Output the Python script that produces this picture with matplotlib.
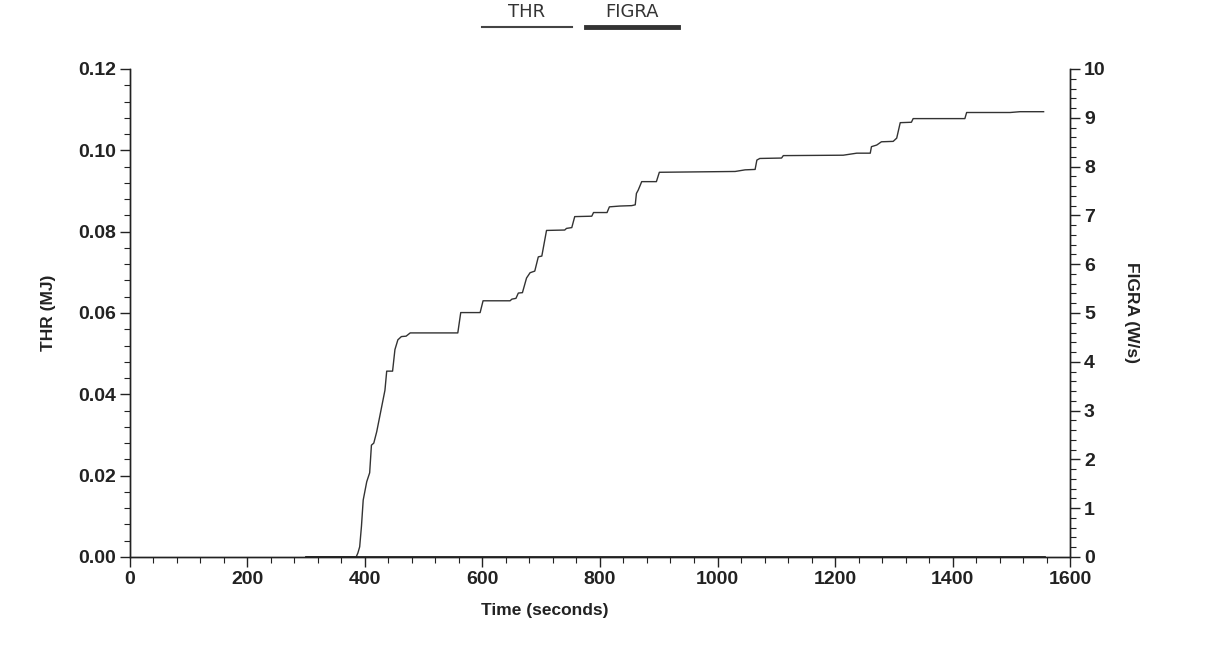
import matplotlib
matplotlib.use("Agg")
import matplotlib.pyplot as plt
from matplotlib.lines import Line2D
from matplotlib.ticker import MultipleLocator, FormatStrFormatter

# THR curve (time in s, THR in MJ)
time = [300, 385, 388, 391, 394, 397, 403, 408, 411, 415, 420, 434, 437, 447,
        451, 456, 462, 470, 477, 558, 563, 596, 601, 647, 650, 657, 661, 668,
        675, 681, 689, 695, 701, 709, 740, 743, 752, 757, 786, 789, 812, 816,
        834, 854, 860, 862, 865, 871, 896, 901, 1030, 1047, 1064, 1067, 1072,
        1109, 1112, 1214, 1237, 1260, 1262, 1271, 1279, 1299, 1305, 1311, 1330,
        1333, 1421, 1424, 1498, 1515, 1555]
thr = [0.0, 0.0, 0.001, 0.0025, 0.0075, 0.014, 0.0185, 0.0207, 0.0275, 0.028,
       0.0308, 0.041, 0.0457, 0.0457, 0.051, 0.0534, 0.0542, 0.0543, 0.0551,
       0.0551, 0.0601, 0.0601, 0.0630, 0.0630, 0.0634, 0.0636, 0.0649, 0.0650,
       0.0686, 0.0699, 0.0703, 0.0738, 0.0740, 0.0803, 0.0804, 0.0808, 0.0810,
       0.0837, 0.0838, 0.0847, 0.0847, 0.0861, 0.0863, 0.0864, 0.0866, 0.0894,
       0.0902, 0.0923, 0.0923, 0.0946, 0.0948, 0.0952, 0.0953, 0.0976, 0.0980,
       0.0981, 0.0987, 0.0988, 0.0993, 0.0993, 0.1009, 0.1013, 0.1021, 0.1022,
       0.1030, 0.1068, 0.1069, 0.1078, 0.1078, 0.1093, 0.1093, 0.1095, 0.1095]

# FIGRA stays at zero for the whole test
figra_time = [300, 1555]
figra = [0.0, 0.0]

plt.rcParams['font.family'] = ['Liberation Sans', 'DejaVu Sans']

fig = plt.figure(figsize=(12.11, 6.46), dpi=100)
ax = fig.add_axes([0.1073, 0.1378, 0.7763, 0.7554])
ax2 = ax.twinx()

ax.plot(time, thr, color='#333333', lw=1.0, zorder=3)
ax2.plot(figra_time, figra, color='#222222', lw=2, zorder=2)

ax.set_xlim(0, 1600)
ax.set_ylim(0, 0.12)
ax2.set_ylim(0, 10)

ax.xaxis.set_major_locator(MultipleLocator(200))
ax.xaxis.set_minor_locator(MultipleLocator(40))
ax.yaxis.set_major_locator(MultipleLocator(0.02))
ax.yaxis.set_minor_locator(MultipleLocator(0.004))
ax.yaxis.set_major_formatter(FormatStrFormatter('%.2f'))
ax2.yaxis.set_major_locator(MultipleLocator(1))
ax2.yaxis.set_minor_locator(MultipleLocator(0.2))

for a in (ax, ax2):
    a.spines['top'].set_visible(False)
    for s in a.spines.values():
        s.set_color('#222222')
        s.set_linewidth(1.0)
    a.tick_params(which='major', length=7, width=1, color='#222222',
                  labelsize=14, pad=3)
    a.tick_params(which='minor', length=4, width=0.8, color='#222222')
    for lab in a.get_xticklabels() + a.get_yticklabels():
        lab.set_fontweight('bold')
        lab.set_color('#222222')

ax.set_xlabel('Time (seconds)', fontsize=12.5, fontweight='bold', color='#222222')
ax.xaxis.set_label_coords(0.441, -0.095)
ax.set_ylabel('THR (MJ)', fontsize=12.5, fontweight='bold', color='#222222', labelpad=16)
ax2.set_ylabel('FIGRA (W/s)', fontsize=12.5, fontweight='bold', color='#222222',
               rotation=270, labelpad=24)

# legend at the top: names above the line samples
fig.add_artist(Line2D([482 / 1211, 572 / 1211], [1 - 27 / 646, 1 - 27 / 646],
                      color='#444444', lw=1.5))
fig.add_artist(Line2D([586 / 1211, 678 / 1211], [1 - 27 / 646, 1 - 27 / 646],
                      color='#333333', lw=3.5))
fig.text(527 / 1211, 1 - 12 / 646, 'THR', ha='center', va='center',
         fontsize=13, family='DejaVu Sans', color='#333333')
fig.text(632 / 1211, 1 - 12 / 646, 'FIGRA', ha='center', va='center',
         fontsize=13, family='DejaVu Sans', color='#333333')

fig.savefig('out.png', dpi=100)
